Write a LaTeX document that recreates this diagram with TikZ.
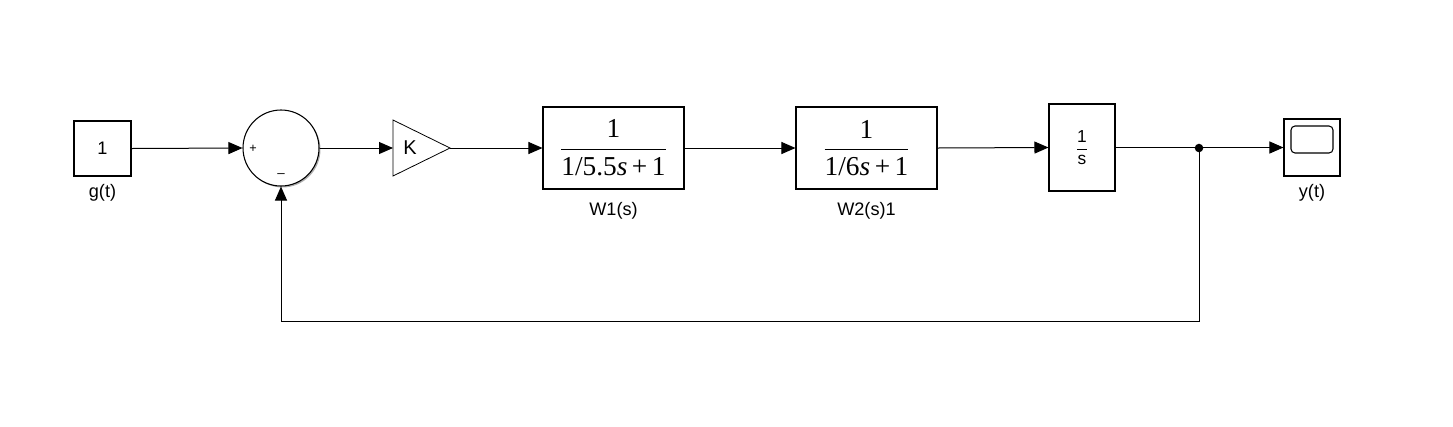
\documentclass[tikz,border=0pt]{standalone}
\usepackage{amsmath}
\usepackage{fontspec}
\setmainfont{Liberation Sans}
\newfontfamily\tfser{Liberation Serif}
\usetikzlibrary{arrows.meta,shadows}

\tikzset{
	blk/.style={draw,line width=0.8pt,fill=white,inner sep=0pt,
		drop shadow={shadow xshift=1.1pt,shadow yshift=-1.1pt,fill=black!45,opacity=.7}},
	lbl/.style={font=\fontsize{13.6}{15}\selectfont},
	sig/.style={line width=0.75pt,-{Triangle[length=10.5pt,width=9pt]}},
	wire/.style={line width=0.75pt}
}
\newcommand{\tffrac}[2]{\dfrac{\text{\tfser #1}}{\text{\tfser #2}}}

\begin{document}
\begin{tikzpicture}[x=0.75pt,y=-0.75pt]
	\useasboundingbox (0,0) rectangle (1453,426);
	
	\node[blk,minimum width=42.75pt,minimum height=41.25pt,font=\fontsize{13.6}{15}\selectfont] (gsrc) at (102.5,148.5) {1};
	\node[lbl] (glbl) at (102.5,193) {g(t)};
	
	\node[blk,circle,minimum size=57pt] (sum) at (281,148) {};
	\node[font=\fontsize{9.5}{10}\selectfont] (plus) at (253,149) {+};
	\node[font=\fontsize{10}{10}\selectfont] (minus) at (281,176) {--};
	
	% gain
	\coordinate (gin) at (393,148);
	\coordinate (gout) at (450,148);
	\draw[line width=0.6pt,fill=white] (393,120) -- (gout) -- (393,176) -- cycle;
	\node[font=\fontsize{15}{16}\selectfont] (gain) at (410,148) {K};
	
	\node[blk,minimum width=105.75pt,minimum height=61.5pt,font=\fontsize{20.5}{22}\selectfont] (w1) at (613.5,148)
		{$\tffrac{1}{1/5.5\textit{s}\,+\,1}$};
	\node[lbl] (w1lbl) at (613.5,211) {W1(s)};
	
	\node[blk,minimum width=105.75pt,minimum height=61.5pt,font=\fontsize{20.5}{22}\selectfont] (w2) at (866.5,148)
		{$\tffrac{1}{1/6\textit{s}\,+\,1}$};
	\node[lbl] (w2lbl) at (866.5,211) {W2(s)1};
	
	\node[blk,minimum width=49.5pt,minimum height=65.25pt,font=\fontsize{13}{14}\selectfont] (integ) at (1082,147.5)
		{$\dfrac{\text{1}}{\text{s}}$};
	
	\node[blk,minimum width=42pt,minimum height=42.75pt] (scope) at (1312,147.5) {};
	\node[draw,line width=0.8pt,rounded corners=3pt,minimum width=31.5pt,minimum height=20.25pt] (screen) at (1312,139.5) {};
	\node[lbl] (ylbl) at (1312,193) {y(t)};
	
	\coordinate (split) at (1199,148);
	\coordinate (fb) at (1199,321);
	\fill (split) circle (3.2pt);
	
	\draw[sig] (gsrc.east) -- (sum.west);
	\draw[sig] (sum.east) -- (gin);
	\draw[sig] (gout) -- (w1.west);
	\draw[sig] (w1.east) -- (w2.west);
	\draw[sig] (w2.east) -- (integ.west);
	\draw[sig] (integ.east) -- (scope.west);
	\draw[sig] (split) -- (fb) -| (sum.south);
	
\end{tikzpicture}
\end{document}
